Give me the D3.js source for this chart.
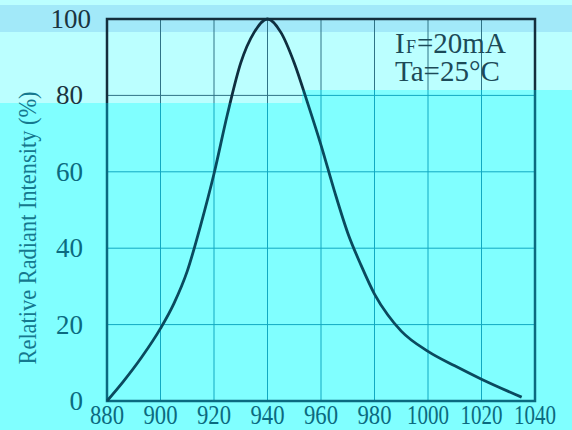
<!DOCTYPE html>
<html>
<head>
<meta charset="utf-8">
<script src="https://cdn.jsdelivr.net/npm/d3@7"></script>
<style>
  html, body { margin: 0; padding: 0; background: #80ffff; }
  svg { display: block; font-family: "Liberation Serif", "DejaVu Serif", serif; }
</style>
</head>
<body>
<svg id="chart" width="572" height="430"></svg>
<script>
// spectrum
var wavelength = [880, 886, 893, 900, 905, 910, 915, 920, 925, 930, 935, 940, 945, 950, 955, 960, 965, 970, 975, 980, 985, 990, 1000, 1010, 1020, 1035];
var intensity  = [0, 5, 11.5, 19, 25.5, 34, 46, 59.5, 75, 88.5, 96.5, 100, 96.5, 88.5, 78, 67, 55, 44, 35.5, 28, 22.5, 18.3, 13, 9.2, 5.7, 1];
var xTicks = [880, 900, 920, 940, 960, 980, 1000, 1020, 1040];
var yTicks = [0, 20, 40, 60, 80, 100];
var notes = ['=20mA', 'Ta=25°C'];

var svg = d3.select('#chart');
var x = d3.scaleLinear().domain([880, 1040]).range([107, 535]);
var y = d3.scaleLinear().domain([0, 100]).range([401, 19]);

var pts = wavelength.map(function(w, i){ return [w, intensity[i]]; });
var line = d3.line()
  .x(function(d){ return x(d[0]); })
  .y(function(d){ return y(d[1]); })
  .curve(d3.curveMonotoneX);

// top light area has its own clip, the rest is bright cyan
var defs = svg.append('defs');
defs.append('clipPath').attr('id', 'topClip')
  .append('path').attr('d', 'M0,0H572V90H302V103H0Z');

var bottomCols = { grid: '#12a9c2', frame: '#0b6a80', curve: '#0a4a5e' };
var topCols    = { grid: '#2f7487', frame: '#142e3c', curve: '#0f2f40' };

function drawLayer(g, c){
  // grid
  g.selectAll('.vg').data(xTicks.slice(1, -1)).enter().append('line')
    .attr('x1', x).attr('x2', x).attr('y1', y(0)).attr('y2', y(100))
    .attr('stroke', c.grid).attr('stroke-width', 1);
  g.selectAll('.hg').data(yTicks.slice(1, -1)).enter().append('line')
    .attr('x1', x(880)).attr('x2', x(1040)).attr('y1', y).attr('y2', y)
    .attr('stroke', c.grid).attr('stroke-width', 1);

  // frame
  g.append('rect')
    .attr('x', x(880)).attr('y', y(100))
    .attr('width', x(1040) - x(880)).attr('height', y(0) - y(100))
    .attr('fill', 'none').attr('stroke', c.frame).attr('stroke-width', 2.5);

  // curve
  g.append('path').datum(pts)
    .attr('d', line)
    .attr('fill', 'none').attr('stroke', c.curve).attr('stroke-width', 2.8);
}

// backgrounds
svg.append('rect').attr('width', 572).attr('height', 430).attr('fill', '#80ffff');

drawLayer(svg.append('g'), bottomCols);
var topLayer = svg.append('g').attr('clip-path', 'url(#topClip)');
// cover the bright-colour layer inside the top area
topLayer.append('rect').attr('width', 572).attr('height', 110).attr('fill', '#bbffff');
topLayer.append('rect').attr('y', 5).attr('width', 572).attr('height', 27).attr('fill', '#a2e9f9');
drawLayer(topLayer, topCols);

// texts, drawn once
svg.selectAll('.yl').data(yTicks).enter().append('text')
  .attr('x', function(d){ return d === 100 ? 91 : 83; })
  .attr('y', function(d){ return y(d) + 9; })
  .attr('text-anchor', 'end')
  .attr('font-size', 27)
  .attr('fill', function(d){ return d >= 80 ? '#1a3440' : '#0b6a80'; })
  .text(function(d){ return d; });

svg.selectAll('.xl').data(xTicks).enter().append('text')
  .attr('x', x)
  .attr('y', 424)
  .attr('text-anchor', 'middle')
  .attr('font-size', 28)
  .attr('textLength', function(d){ return String(d).length === 3 ? 34 : 42; })
  .attr('lengthAdjust', 'spacingAndGlyphs')
  .attr('fill', '#0b6a80')
  .text(function(d){ return d; });

svg.append('text')
  .attr('transform', 'translate(36,228) rotate(-90)')
  .attr('text-anchor', 'middle')
  .attr('font-size', 26)
  .attr('textLength', 273)
  .attr('lengthAdjust', 'spacingAndGlyphs')
  .attr('fill', '#15788e')
  .text('Relative Radiant Intensity (%)');

// conditions: I with small F, then the rest
svg.append('text').attr('x', 395).attr('y', 53).attr('font-size', 29).attr('fill', '#1c4a58').text('I');
svg.append('text').attr('x', 406).attr('y', 53).attr('font-size', 18).attr('fill', '#1c4a58').text('F');
svg.append('text').attr('x', 417).attr('y', 53).attr('font-size', 29).attr('fill', '#1c4a58').text(notes[0]);
svg.append('text').attr('x', 395).attr('y', 81).attr('font-size', 29).attr('fill', '#1c4a58')
  .text(notes[1]);
</script>
</body>
</html>
